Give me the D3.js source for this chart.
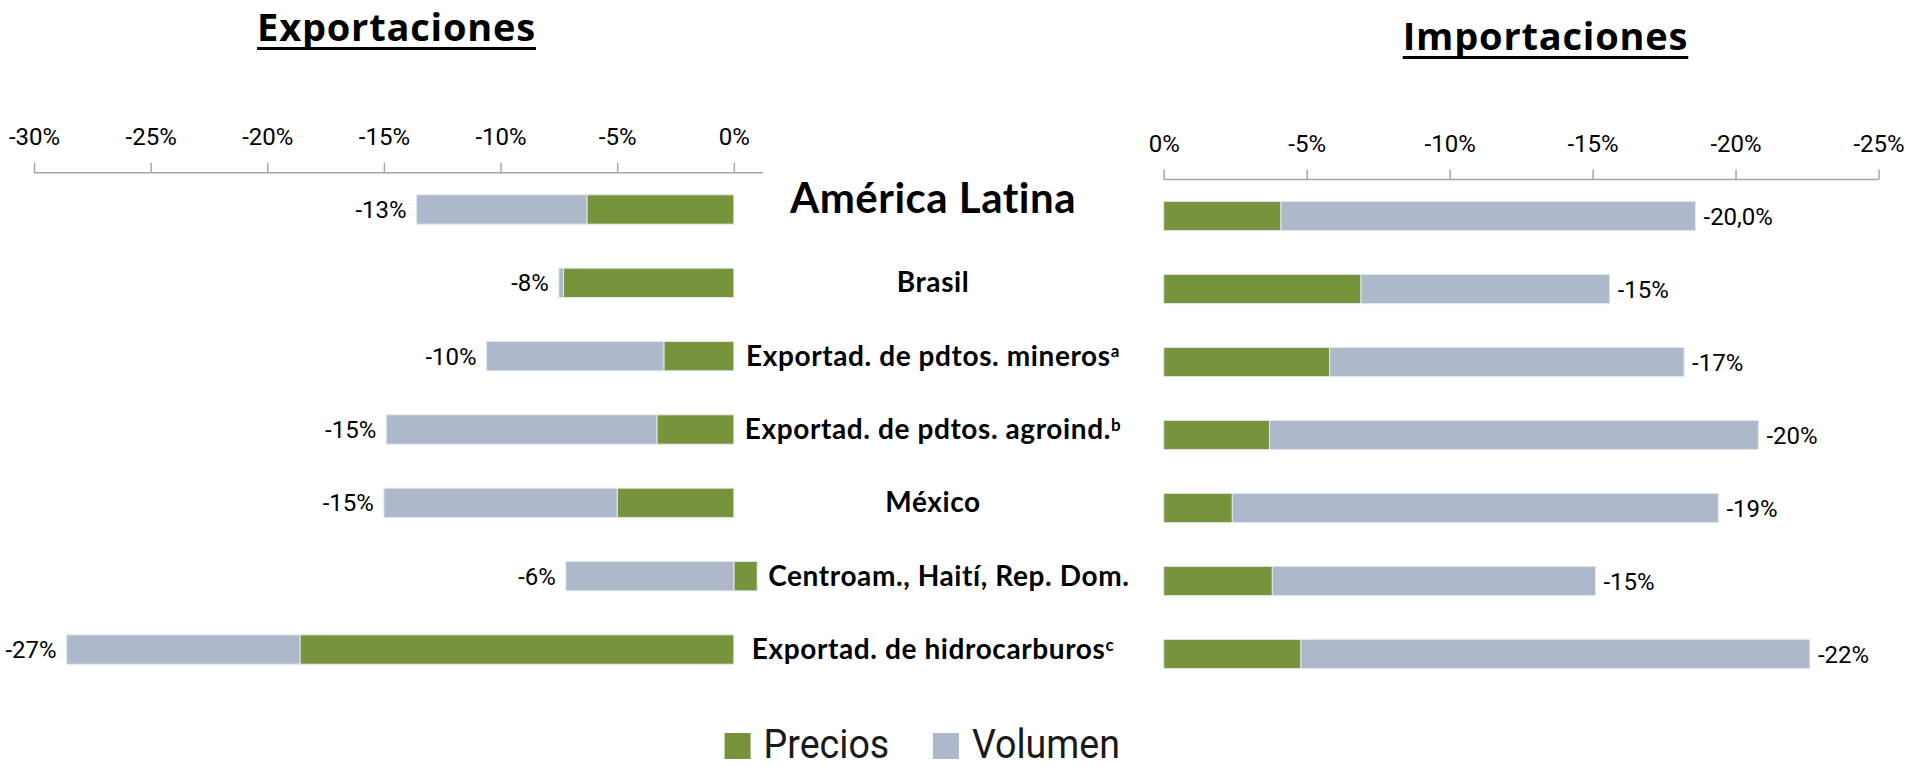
<!DOCTYPE html>
<html>
<head>
<meta charset="utf-8">
<script src="https://cdn.jsdelivr.net/npm/d3@7"></script>
<style>
  body { margin: 0; background: #fff; }
  svg { display: block; }
  .val { font-family: Roboto, sans-serif; font-size: 24px; fill: #000; }
  .cat { font-family: Lato, "Open Sans", sans-serif; font-weight: bold; fill: #000; }
  .title { font-family: "Open Sans", sans-serif; font-weight: bold; font-size: 38px; letter-spacing: 0.8px; fill: #000; }
  .leg { font-family: Roboto, sans-serif; font-size: 40px; fill: #1a1a1a; }
</style>
</head>
<body>
<div id="chart"></div>
<script>
const width = 1906;
const height = 766;

const categories = ["América Latina", "Brasil", "Exportad. de pdtos. mineros", "Exportad. de pdtos. agroind.", "México", "Centroam., Haití, Rep. Dom.", "Exportad. de hidrocarburos"];
const notes = ["", "", "a", "b", "", "", "c"];

const expPrecios = [-6.3, -7.3, -3.0, -3.3, -5.0, 1.0, -18.6];
const expVolumen = [-7.3, -0.2, -7.6, -11.6, -10.0, -7.2, -10.0];
const expLabels = ["-13%", "-8%", "-10%", "-15%", "-15%", "-6%", "-27%"];

const impPrecios = [-4.1, -6.9, -5.8, -3.7, -2.4, -3.8, -4.8];
const impVolumen = [-14.5, -8.7, -12.4, -17.1, -17.0, -11.3, -17.8];
const impLabels = ["-20,0%", "-15%", "-17%", "-20%", "-19%", "-15%", "-22%"];

const expTicks = [-30, -25, -20, -15, -10, -5, 0];
const impTicks = [0, -5, -10, -15, -20, -25];

const seriesNames = ["Precios", "Volumen"];
const colors = { Precios: "#77933c", Volumen: "#adb9ca" };

const svg = d3.select("#chart")
    .append("svg")
    .attr("width", width)
    .attr("height", height);

// rows for d3.stack
function rows(precios, volumen) {
    return categories.map((c, i) => ({ cat: c, Precios: precios[i], Volumen: volumen[i] }));
}
const stack = d3.stack().keys(seriesNames).offset(d3.stackOffsetDiverging);

function drawPanel(opts) {
    const { x, y, data, labels, ticks, labelSide } = opts;

    const axis = d3.axisTop(x)
        .tickValues(ticks)
        .tickSize(10)
        .tickPadding(18)
        .tickFormat((d) => d + "%");

    const g = svg.append("g")
        .attr("transform", `translate(0,${y.range()[0]})`)
        .call(axis);
    g.select(".domain")
        .attr("stroke", "#a6a6a6")
        .attr("stroke-width", 1.5)
        .attr("d", `M${x.range()[0]},0H${x.range()[1]}`);
    g.selectAll(".tick line").attr("stroke", "#a6a6a6").attr("stroke-width", 1.5);
    g.selectAll(".tick text")
        .style("font-family", "Roboto, sans-serif")
        .style("font-size", "24px")
        .attr("fill", "#000");

    const series = stack(data);
    svg.append("g")
        .selectAll("g")
        .data(series)
        .join("g")
        .attr("fill", (s) => colors[s.key])
        .selectAll("rect")
        .data((s) => s)
        .join("rect")
        .attr("x", (d) => Math.min(x(d[0]), x(d[1])))
        .attr("width", (d) => Math.abs(x(d[1]) - x(d[0])))
        .attr("y", (d) => y(d.data.cat))
        .attr("height", y.bandwidth())
        .attr("stroke", "#e3e7ee")
        .attr("stroke-width", 1);

    // value labels at the negative end of each bar
    svg.append("g")
        .selectAll("text")
        .data(data)
        .join("text")
        .attr("class", "val")
        .attr("x", (d) => {
            const neg = Math.min(0, d.Precios) + Math.min(0, d.Volumen);
            return labelSide === "left" ? x(neg) - 10 : x(neg) + 8;
        })
        .attr("y", (d) => y(d.cat) + y.bandwidth() / 2)
        .attr("dy", "0.36em")
        .attr("text-anchor", labelSide === "left" ? "end" : "start")
        .text((d, i) => labels[i]);
}

const xExp = d3.scaleLinear().domain([-30, 1.25]).range([34, 763]);
const yExp = d3.scaleBand().domain(categories).range([172.8, 686.2]).paddingInner(0.6).paddingOuter(0.3);

const xImp = d3.scaleLinear().domain([0, -25]).range([1163.7, 1878.5]);
const yImp = d3.scaleBand().domain(categories).range([179.5, 690.5]).paddingInner(0.6).paddingOuter(0.3);

const expData = rows(expPrecios, expVolumen);
const impData = rows(impPrecios, impVolumen);

drawPanel({ x: xExp, y: yExp, data: expData, labels: expLabels, ticks: expTicks, labelSide: "left" });
drawPanel({ x: xImp, y: yImp, data: impData, labels: impLabels, ticks: impTicks, labelSide: "right" });

// category labels between the two panels
const catCenter = 933;
const cats = svg.append("g")
    .selectAll("text")
    .data(expData)
    .join("text")
    .attr("class", "cat")
    .style("font-size", (d, i) => (i === 0 ? "42px" : "28px"))
    .style("letter-spacing", (d, i) => (i === 0 ? "0.5px" : "0.6px"))
    .attr("y", (d, i) => yExp(d.cat) + yExp.bandwidth() / 2 + (i === 0 ? 3.5 : 9.5));
cats.append("tspan").text((d) => d.cat);
cats.append("tspan")
    .attr("dy", "-0.5em")
    .style("font-size", "17px")
    .text((d, i) => notes[i]);
cats.each(function (d) {
    const w = this.getComputedTextLength();
    let left = catCenter - w / 2;
    const pos = Math.max(0, d.Precios) + Math.max(0, d.Volumen);
    if (pos > 0) left = Math.max(left, xExp(pos) + 11);
    d3.select(this).attr("x", left);
});

// panel titles with underline
const titles = [
    { text: "Exportaciones", cx: 396.5, y: 41 },
    { text: "Importaciones", cx: 1545.5, y: 50 }
];
titles.forEach((t) => {
    const el = svg.append("text")
        .attr("class", "title")
        .attr("x", t.cx)
        .attr("y", t.y)
        .attr("text-anchor", "middle")
        .text(t.text);
    const w = el.node().getComputedTextLength();
    svg.append("rect")
        .attr("x", t.cx - w / 2)
        .attr("y", t.y + 6)
        .attr("width", w)
        .attr("height", 3)
        .attr("fill", "#000");
});

// legend
const legX = [724.6, 932.9];
const leg = svg.append("g")
    .selectAll("g")
    .data(seriesNames)
    .join("g")
    .attr("transform", (d, i) => `translate(${legX[i]},733)`);
leg.append("rect")
    .attr("width", 26)
    .attr("height", 26)
    .attr("fill", (d) => colors[d]);
leg.append("text")
    .attr("class", "leg")
    .attr("transform", "translate(39,25) scale(0.94,1)")
    .text((d) => d);
</script>
</body>
</html>
